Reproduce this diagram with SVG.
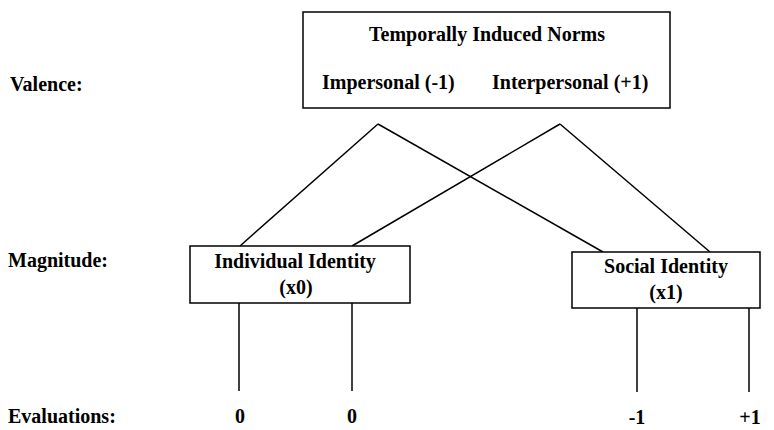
<svg xmlns="http://www.w3.org/2000/svg" width="774" height="430" viewBox="0 0 774 430">
<style>
text{font-family:"Liberation Serif","Times New Roman",serif;font-weight:bold;font-size:20px;fill:#000}
.m{text-anchor:middle}
.box{fill:#fff;stroke:#000;stroke-width:1.5}
.ln{stroke:#000;stroke-width:1.5;fill:none}
</style>
<rect width="774" height="430" fill="#fff"/>
<g id="labels">
<text x="10" y="91">Valence:</text>
<text x="8" y="267">Magnitude:</text>
<text x="8" y="423">Evaluations:</text>
</g>
<g id="connectors">
<line class="ln" x1="378" y1="124" x2="240" y2="246"/>
<line class="ln" x1="378" y1="124" x2="603" y2="252"/>
<line class="ln" x1="560" y1="124" x2="352" y2="246"/>
<line class="ln" x1="560" y1="124" x2="710" y2="252"/>
<line class="ln" x1="239" y1="303" x2="239" y2="391"/>
<line class="ln" x1="352" y1="303" x2="352" y2="391"/>
<line class="ln" x1="637" y1="308" x2="637" y2="392"/>
<line class="ln" x1="749" y1="308" x2="749" y2="392"/>
</g>
<g id="norms">
<rect class="box" x="303" y="12" width="367" height="96"/>
<text class="m" x="487" y="41">Temporally Induced Norms</text>
<text x="322" y="89">Impersonal (-1)</text>
<text x="492" y="89">Interpersonal (+1)</text>
</g>
<g id="individual">
<rect class="box" x="190" y="246" width="220" height="57"/>
<text class="m" x="295" y="268">Individual Identity</text>
<text class="m" x="296" y="294">(x0)</text>
</g>
<g id="social">
<rect class="box" x="572" y="252" width="188" height="56"/>
<text class="m" x="666" y="273">Social Identity</text>
<text class="m" x="666" y="299">(x1)</text>
</g>
<g id="evals">
<text class="m" x="240" y="423">0</text>
<text class="m" x="352" y="423">0</text>
<text class="m" x="637" y="424">-1</text>
<text class="m" x="750" y="424">+1</text>
</g>
</svg>
